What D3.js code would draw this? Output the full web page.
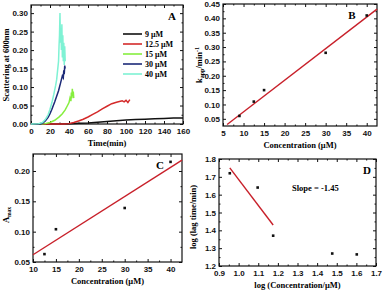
<!DOCTYPE html>
<html lang="en">
<head>
<meta charset="UTF-8">
<title>Kinetics panels</title>
<script src="https://d3js.org/d3.v7.min.js"></script>
<style>
  body { margin: 0; background: #fff; }
  svg { font-family: "Liberation Serif", "DejaVu Serif", serif; font-weight: bold; }
  .tick text { font-size: 8px; font-weight: bold; fill: #111; }
  .tick line { stroke: #111; }
</style>
</head>
<body>
<svg id="chart" width="383" height="291"></svg>
<script>
// ---- Panel A: scattering vs time ----
const seriesNames = ["9 μM", "12.5 μM", "15 μM", "30 μM", "40 μM"];
const seriesColors = ["#111111", "#d42a2a", "#86ee3e", "#1c2a78", "#7ff2d4"];
const t9 = [0,10,20,30,40,50,60,70,80,90,100,110,120,130,140,150,160];
const v9 = [0,0,0,0,0.001,0.002,0.003,0.005,0.007,0.009,0.011,0.012,0.013,0.014,0.015,0.016,0.016];
const t12 = [0,20,35,40,45,50,55,60,65,70,75,80,85,90,93,96,98,100,102,104];
const v12 = [0,0,0,0.001,0.004,0.008,0.013,0.019,0.026,0.033,0.041,0.048,0.055,0.059,0.061,0.063,0.060,0.064,0.058,0.066];
const t15 = [0,10,15,20,25,30,33,36,38,40,41,42,42.5,43,43.5,44,44.5,45];
const v15 = [0,0,0.001,0.004,0.010,0.020,0.028,0.038,0.048,0.058,0.070,0.062,0.085,0.070,0.095,0.075,0.088,0.070];
const t30 = [0,10,12,15,18,20,22,25,27,29,30,31,32,33,34,34.5,35,35.5,36];
const v30 = [0,0,0.002,0.008,0.018,0.028,0.040,0.060,0.075,0.090,0.100,0.110,0.120,0.130,0.125,0.145,0.135,0.158,0.150];
const t40 = [0,8,12,15,18,20,22,24,26,27,28,29,29.5,30,30.5,31,31.5,32,32.5,33,33.5,34,34.5,35,35.5,36];
const v40 = [0,0.001,0.004,0.012,0.025,0.040,0.058,0.080,0.105,0.120,0.145,0.170,0.210,0.240,0.300,0.220,0.260,0.200,0.270,0.180,0.240,0.170,0.220,0.160,0.210,0.170];
const timeSeries = [[t9, v9], [t12, v12], [t15, v15], [t30, v30], [t40, v40]];

// ---- Panel B: k_app vs concentration ----
const concB = [9, 12.5, 15, 30, 40];
const kapp = [0.06, 0.11, 0.15, 0.28, 0.41];
const fitBx = [6, 42.5];
const fitBy = [0.030, 0.432];

// ---- Panel C: A_max vs concentration ----
const concC = [12.5, 15, 30, 40];
const amax = [0.063, 0.104, 0.139, 0.215];
const fitCx = [10, 42.5];
const fitCy = [0.062, 0.218];

// ---- Panel D: log lag time vs log concentration ----
const logConc = [0.955, 1.097, 1.176, 1.477, 1.602];
const logLag = [1.72, 1.64, 1.37, 1.27, 1.265];
const fitDx = [0.955, 1.176];
const fitDy = [1.75, 1.43];

const svg = d3.select("#chart");

function panel(o) {
  const g = svg.append("g");
  const x = d3.scaleLinear().domain(o.xd).range([o.l, o.r]);
  const y = d3.scaleLinear().domain(o.yd).range([o.b, o.t]);
  const mid = v => v.slice(0, -1).map((d, i) => (d + v[i + 1]) / 2);

  // minor ticks
  const xm = mid(o.xt), ym = mid(o.yt);
  g.append("g").attr("transform", `translate(0,${o.b})`)
    .call(d3.axisBottom(x).tickValues(xm).tickSize(-1.5).tickFormat(""));
  g.append("g").attr("transform", `translate(0,${o.t})`)
    .call(d3.axisTop(x).tickValues(xm).tickSize(-1.5).tickFormat(""));
  g.append("g").attr("transform", `translate(${o.l},0)`)
    .call(d3.axisLeft(y).tickValues(ym).tickSize(-1.5).tickFormat(""));
  g.append("g").attr("transform", `translate(${o.r},0)`)
    .call(d3.axisRight(y).tickValues(ym).tickSize(-1.5).tickFormat(""));

  // major ticks
  g.append("g").attr("transform", `translate(0,${o.b})`)
    .call(d3.axisBottom(x).tickValues(o.xt).tickSize(-3).tickPadding(4).tickFormat(d3.format(o.xf)));
  g.append("g").attr("transform", `translate(0,${o.t})`)
    .call(d3.axisTop(x).tickValues(o.xt).tickSize(-3).tickFormat(""));
  g.append("g").attr("transform", `translate(${o.l},0)`)
    .call(d3.axisLeft(y).tickValues(o.yt).tickSize(-3).tickPadding(3).tickFormat(d3.format(o.yf)));
  g.append("g").attr("transform", `translate(${o.r},0)`)
    .call(d3.axisRight(y).tickValues(o.yt).tickSize(-3).tickFormat(""));
  g.selectAll(".domain").remove();

  g.append("rect").attr("x", o.l).attr("y", o.t)
    .attr("width", o.r - o.l).attr("height", o.b - o.t)
    .attr("fill", "none").attr("stroke", "#111").attr("stroke-width", 1.2);

  g.append("text").attr("x", o.tx).attr("y", o.ty)
    .attr("text-anchor", "middle").attr("font-size", 11).text(o.tag);

  g.append("text").attr("x", (o.l + o.r) / 2).attr("y", o.b + 22)
    .attr("text-anchor", "middle").attr("font-size", 8.5).text(o.xlab);
  return { g, x, y };
}

// A
const A = panel({ l: 31, r: 183, t: 5, b: 124, xd: [0, 160], yd: [0, 0.322],
  xt: d3.range(0, 161, 20), yt: [0, 0.05, 0.1, 0.15, 0.2, 0.25, 0.3],
  xf: "d", yf: ".2f", tag: "A", tx: 172, ty: 20, xlab: "Time(min)" });
A.g.append("text").attr("transform", "translate(9,65) rotate(-90)")
  .attr("text-anchor", "middle").attr("font-size", 8.5).text("Scattering at 600nm");
const line = d3.line().x(d => A.x(d[0])).y(d => A.y(d[1]));
timeSeries.forEach(([ts, vs], i) => {
  A.g.append("path").datum(ts.map((t, j) => [t, vs[j]]))
    .attr("d", line).attr("fill", "none")
    .attr("stroke", seriesColors[i]).attr("stroke-width", 1.5);
});
seriesNames.forEach((n, i) => {
  const yy = 34 + i * 10;
  A.g.append("line").attr("x1", 123).attr("x2", 142).attr("y1", yy).attr("y2", yy)
    .attr("stroke", seriesColors[i]).attr("stroke-width", 1.6);
  A.g.append("text").attr("x", 145).attr("y", yy + 3).attr("font-size", 8).text(n);
});

// B
const B = panel({ l: 223, r: 377, t: 4, b: 126, xd: [5, 42.5], yd: [0.025, 0.45],
  xt: d3.range(5, 41, 5), yt: [0.05, 0.1, 0.15, 0.2, 0.25, 0.3, 0.35, 0.4, 0.45],
  xf: "d", yf: ".2f", tag: "B", tx: 352, ty: 19, xlab: "Concentration (μM)" });
const kt = B.g.append("text").attr("transform", "translate(202,65) rotate(-90)")
  .attr("text-anchor", "middle").attr("font-size", 8.5);
kt.append("tspan").text("k");
kt.append("tspan").attr("font-size", 6).attr("dy", 2).text("app");
kt.append("tspan").attr("dy", -2).text("/min");
kt.append("tspan").attr("font-size", 6).attr("dy", -3).text("-1");
B.g.append("path").datum(fitBx.map((v, i) => [v, fitBy[i]]))
  .attr("d", d3.line().x(d => B.x(d[0])).y(d => B.y(d[1])))
  .attr("stroke", "#c8202a").attr("stroke-width", 1.4).attr("fill", "none");
B.g.selectAll(".pt").data(concB).join("rect")
  .attr("x", (d) => B.x(d) - 1.3).attr("y", (d, i) => B.y(kapp[i]) - 1.3)
  .attr("width", 2.6).attr("height", 2.6).attr("fill", "#111");

// C
const C = panel({ l: 33, r: 182, t: 154, b: 262, xd: [10, 42.5], yd: [0.05, 0.228],
  xt: d3.range(10, 41, 5), yt: [0.05, 0.1, 0.15, 0.2],
  xf: "d", yf: ".2f", tag: "C", tx: 160, ty: 169, xlab: "Concentration (μM)" });
const at = C.g.append("text").attr("transform", "translate(9,215) rotate(-90)")
  .attr("text-anchor", "middle").attr("font-size", 8.5);
at.append("tspan").text("A");
at.append("tspan").attr("font-size", 5.5).attr("dy", 2).text("max");
C.g.append("path").datum(fitCx.map((v, i) => [v, fitCy[i]]))
  .attr("d", d3.line().x(d => C.x(d[0])).y(d => C.y(d[1])))
  .attr("stroke", "#c8202a").attr("stroke-width", 1.4).attr("fill", "none");
C.g.selectAll(".pt").data(concC).join("rect")
  .attr("x", (d) => C.x(d) - 1.3).attr("y", (d, i) => C.y(amax[i]) - 1.3)
  .attr("width", 2.6).attr("height", 2.6).attr("fill", "#111");

// D
const D = panel({ l: 219, r: 376, t: 159, b: 266, xd: [0.9, 1.7], yd: [1.2, 1.8],
  xt: d3.range(9, 18).map(d => d / 10), yt: d3.range(12, 19).map(d => d / 10),
  xf: ".1f", yf: ".1f", tag: "D", tx: 367, ty: 174, xlab: "log (Concentration/μM)" });
D.g.append("text").attr("transform", "translate(196,217) rotate(-90)")
  .attr("text-anchor", "middle").attr("font-size", 8.5).text("log (lag time/min)");
D.g.append("path").datum(fitDx.map((v, i) => [v, fitDy[i]]))
  .attr("d", d3.line().x(d => D.x(d[0])).y(d => D.y(d[1])))
  .attr("stroke", "#c8202a").attr("stroke-width", 1.4).attr("fill", "none");
D.g.selectAll(".pt").data(logConc).join("rect")
  .attr("x", (d) => D.x(d) - 1.3).attr("y", (d, i) => D.y(logLag[i]) - 1.3)
  .attr("width", 2.6).attr("height", 2.6).attr("fill", "#111");
D.g.append("text").attr("x", 292).attr("y", 191).attr("font-size", 8.5).text("Slope = -1.45");
</script>
</body>
</html>
